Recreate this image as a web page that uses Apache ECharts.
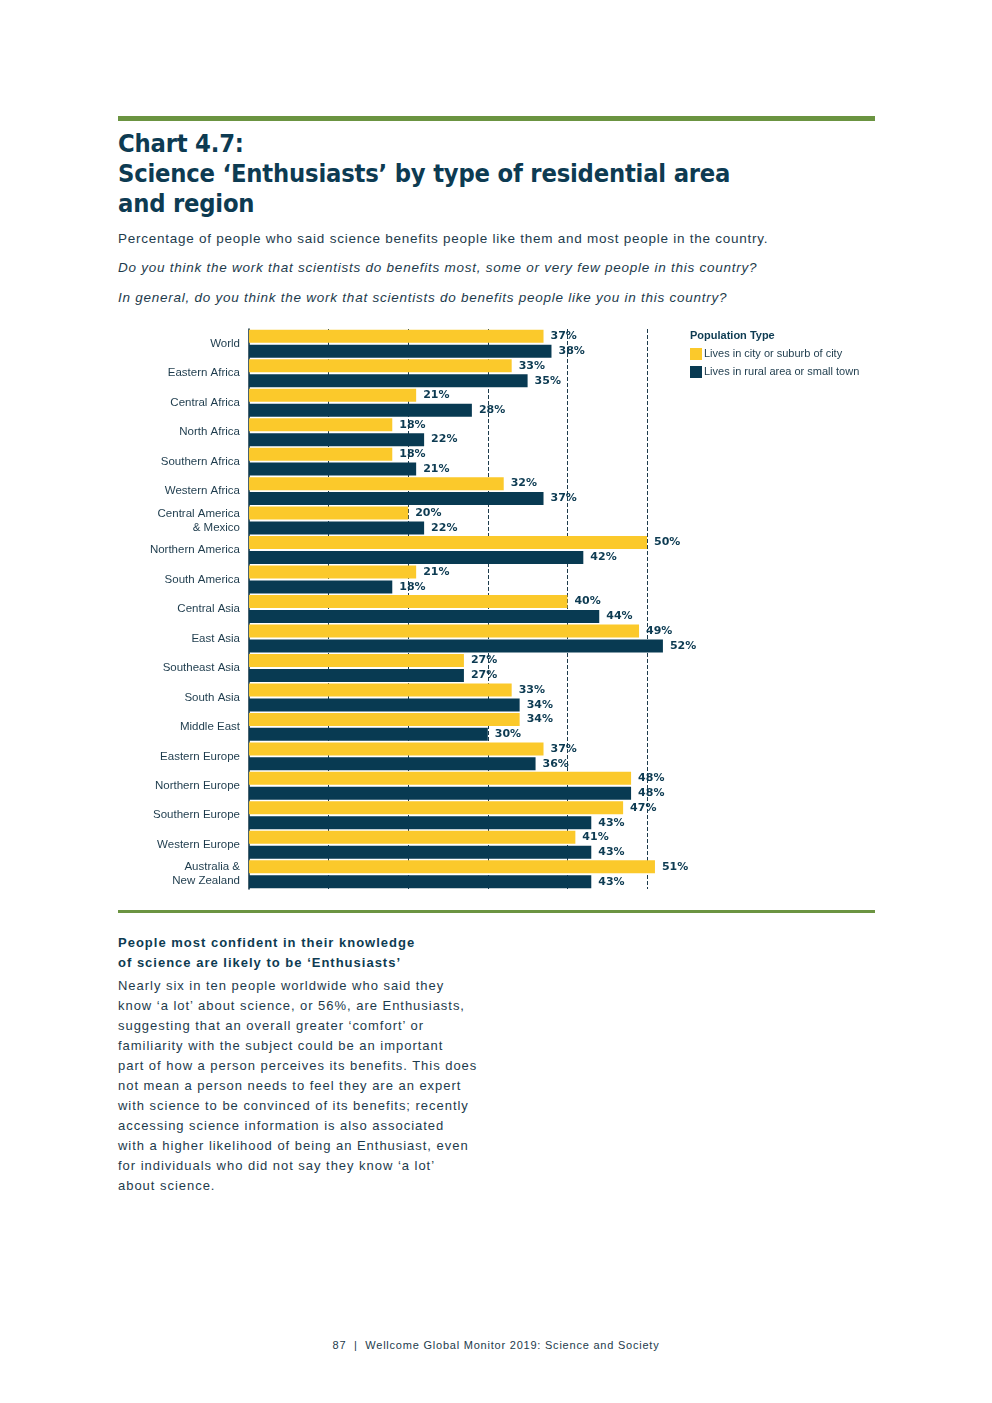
<!DOCTYPE html>
<html>
<head>
<meta charset="utf-8">
<script src="https://cdn.jsdelivr.net/npm/echarts@6/dist/echarts.min.js"></script>
<style>
  html, body { margin: 0; padding: 0; background: #ffffff; }
  body { width: 992px; height: 1403px; position: relative; overflow: hidden; font-family: "Liberation Sans", Arial, sans-serif; color: #1d3b4c; }
  .rule { position: absolute; left: 118px; width: 757px; background: #6b9441; }
  #title { position: absolute; left: 118px; top: 129px; font-family: "DejaVu Sans Condensed", "DejaVu Sans", sans-serif; font-weight: bold; font-size: 25.3px; line-height: 30px; color: #0d3b52; letter-spacing: -0.2px; }
  .sub { position: absolute; left: 118px; font-size: 13.5px; letter-spacing: 0.75px; color: #1d3b4c; white-space: nowrap; }
  .it { font-style: italic; }
  #chart { position: absolute; left: 0; top: 310px; width: 992px; height: 600px; }
  #h2 { position: absolute; left: 118px; top: 933px; font-weight: bold; font-size: 13px; line-height: 20px; letter-spacing: 1px; color: #0d3b52; }
  #body { position: absolute; left: 118px; top: 976px; font-size: 13px; line-height: 20px; letter-spacing: 0.97px; color: #1d3b4c; white-space: nowrap; }
  #foot { position: absolute; left: 0; width: 992px; top: 1339px; text-align: center; font-size: 11px; letter-spacing: 0.78px; color: #1d3b4c; }
</style>
</head>
<body>
<div class="rule" style="top:116px;height:5px;"></div>
<div id="title">Chart 4.7:<br>Science ‘Enthusiasts’ by type of residential area<br>and region</div>
<div class="sub" style="top:231px;">Percentage of people who said science benefits people like them and most people in the country.</div>
<div class="sub it" style="top:260px;">Do you think the work that scientists do benefits most, some or very few people in this country?</div>
<div class="sub it" style="top:290px;">In general, do you think the work that scientists do benefits people like you in this country?</div>
<div id="chart"></div>
<div class="rule" style="top:910px;height:3px;"></div>
<div id="h2">People most confident in their knowledge<br>of science are likely to be ‘Enthusiasts’</div>
<div id="body">Nearly six in ten people worldwide who said they<br>know ‘a lot’ about science, or 56%, are Enthusiasts,<br>suggesting that an overall greater ‘comfort’ or<br>familiarity with the subject could be an important<br>part of how a person perceives its benefits. This does<br>not mean a person needs to feel they are an expert<br>with science to be convinced of its benefits; recently<br>accessing science information is also associated<br>with a higher likelihood of being an Enthusiast, even<br>for individuals who did not say they know ‘a lot’<br>about science.</div>
<div id="foot">87 &nbsp;|&nbsp; Wellcome Global Monitor 2019: Science and Society</div>
<script>
const regions = ["World", "Eastern Africa", "Central Africa", "North Africa", "Southern Africa", "Western Africa",
  "Central America\n& Mexico", "Northern America", "South America", "Central Asia", "East Asia", "Southeast Asia",
  "South Asia", "Middle East", "Eastern Europe", "Northern Europe", "Southern Europe", "Western Europe",
  "Australia &\nNew Zealand"];
const cityValues = [37, 33, 21, 18, 18, 32, 20, 50, 21, 40, 49, 27, 33, 34, 37, 48, 47, 41, 51];
const ruralValues = [38, 35, 28, 22, 21, 37, 22, 42, 18, 44, 52, 27, 34, 30, 36, 48, 43, 43, 43];
const gridValues = [10, 20, 30, 40, 50];
const seriesNames = ["Lives in city or suburb of city", "Lives in rural area or small town"];
const legendTitle = "Population Type";

const chart = echarts.init(document.getElementById('chart'), null, { renderer: 'canvas' });
const labelStyle = {
  show: true, position: 'right', distance: 7,
  formatter: p => p.value + '%',
  color: '#0d3b52', fontFamily: '"DejaVu Sans", sans-serif', fontWeight: 'bold', fontSize: 11
};
chart.setOption({
  animation: false,
  title: {
    text: legendTitle, left: 685, top: 15,
    textStyle: { fontFamily: '"Liberation Sans", Arial, sans-serif', fontWeight: 'bold', fontSize: 11, color: '#0d3b52' }
  },
  legend: {
    orient: 'vertical', left: 685, top: 33, itemWidth: 12, itemHeight: 12, itemGap: 6,
    icon: 'rect', selectedMode: false,
    textStyle: { fontFamily: '"Liberation Sans", Arial, sans-serif', fontSize: 11, color: '#1d3b4c', padding: [0, 0, 0, -3] },
    data: seriesNames
  },
  grid: { left: 249, top: 19, width: 437.8, height: 560 },
  xAxis: {
    type: 'value', min: 0, max: 55,
    axisLine: { show: false }, axisTick: { show: false }, axisLabel: { show: false }, splitLine: { show: false }
  },
  yAxis: {
    type: 'category', data: regions, inverse: true,
    axisLine: { show: true, lineStyle: { color: '#0d2f40', width: 1.5 } },
    axisTick: { show: false },
    axisLabel: { color: '#1d3b4c', fontFamily: '"Liberation Sans", Arial, sans-serif', fontSize: 11.5, lineHeight: 14, margin: 9, align: 'right' }
  },
  series: [
    {
      name: 'gridlines', type: 'line', data: [], z: 1, silent: true,
      markLine: {
        z: 1, silent: true, symbol: 'none', label: { show: false },
        lineStyle: { color: '#1d3b4c', type: [4, 2], width: 1 },
        data: gridValues.map(v => ({ xAxis: v }))
      }
    },
    {
      name: seriesNames[0], type: 'bar', data: cityValues, barWidth: 13, barGap: '15%', z: 3,
      itemStyle: { color: '#fbc92b' }, label: labelStyle
    },
    {
      name: seriesNames[1], type: 'bar', data: ruralValues, barWidth: 13, barGap: '15%', z: 3,
      itemStyle: { color: '#083a52' }, label: labelStyle
    }
  ]
});
</script>
</body>
</html>
